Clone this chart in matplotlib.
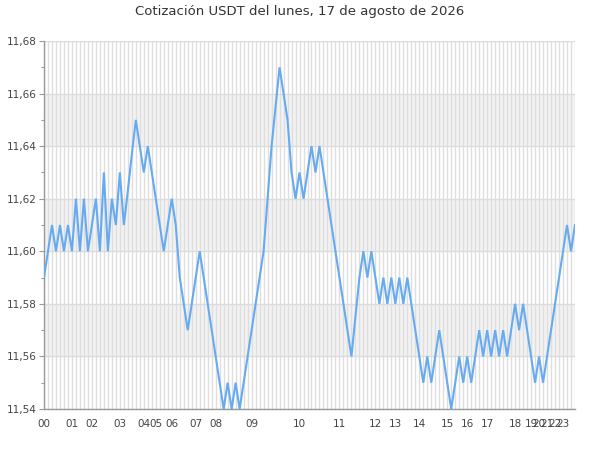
import matplotlib
matplotlib.use("Agg")
import matplotlib.pyplot as plt
from matplotlib.ticker import MultipleLocator, FuncFormatter

title = "Cotización USDT del lunes, 17 de agosto de 2026"

prices = [
    11.59, 11.60, 11.61, 11.60, 11.61, 11.60, 11.61, 11.60, 11.62, 11.60,
    11.62, 11.60, 11.61, 11.62, 11.60, 11.63, 11.60, 11.62, 11.61, 11.63,
    11.61, 11.623, 11.637, 11.65, 11.64, 11.63, 11.64, 11.63, 11.62, 11.61,
    11.60, 11.61, 11.62, 11.61, 11.59, 11.58, 11.57, 11.58, 11.59, 11.60,
    11.59, 11.58, 11.57, 11.56, 11.55, 11.54, 11.55, 11.54, 11.55, 11.54,
    11.55, 11.56, 11.57, 11.58, 11.59, 11.60, 11.62, 11.64, 11.655, 11.67,
    11.66, 11.65, 11.63, 11.62, 11.63, 11.62, 11.63, 11.64, 11.63, 11.64,
    11.63, 11.62, 11.61, 11.60, 11.59, 11.58, 11.57, 11.56, 11.575, 11.59,
    11.60, 11.59, 11.60, 11.59, 11.58, 11.59, 11.58, 11.59, 11.58, 11.59,
    11.58, 11.59, 11.58, 11.57, 11.56, 11.55, 11.56, 11.55, 11.56, 11.57,
    11.56, 11.55, 11.54, 11.55, 11.56, 11.55, 11.56, 11.55, 11.56, 11.57,
    11.56, 11.57, 11.56, 11.57, 11.56, 11.57, 11.56, 11.57, 11.58, 11.57,
    11.58, 11.57, 11.56, 11.55, 11.56, 11.55, 11.56, 11.57, 11.58, 11.59,
    11.60, 11.61, 11.60, 11.61,
]

hour_labels = ["00", "01", "02", "03", "04", "05", "06", "07", "08", "09",
               "10", "11", "12", "13", "14", "15", "16", "17", "18", "19",
               "20", "21", "22", "23"]
hour_positions = [0, 7, 12, 19, 25, 28, 32, 38, 43, 52,
                  64, 74, 83, 88, 94, 101, 106, 111, 118, 122,
                  124, 126, 128, 130]

y_min, y_max = 11.54, 11.68
band_starts = [11.56, 11.60, 11.64]

fig = plt.figure(figsize=(6, 4.5), dpi=100)
ax = fig.add_axes([44 / 600, 1 - 409 / 450, (575 - 44) / 600, (409 - 41) / 450])

n = len(prices)
xs = list(range(n))

for lo in band_starts:
    ax.axhspan(lo, lo + 0.02, color="#f2f2f2", zorder=0, lw=0)

ax.plot(xs, prices, color="#66aaf0", lw=1.5, zorder=3, solid_joinstyle="miter")

ax.set_xlim(0, n - 1)
ax.set_ylim(y_min, y_max)

ax.set_xticks(hour_positions)
ax.set_xticklabels(hour_labels)
ax.set_xticks(xs, minor=True)

ax.yaxis.set_major_locator(MultipleLocator(0.02))
ax.yaxis.set_minor_locator(MultipleLocator(0.01))
ax.yaxis.set_major_formatter(FuncFormatter(lambda v, p: f"{v:.2f}".replace(".", ",")))

ax.set_axisbelow(True)
ax.grid(axis="x", which="both", color="#dedede", lw=1.0, zorder=1)
ax.grid(axis="y", which="major", color="#dcdcdc", lw=1.0, zorder=1)

ax.tick_params(axis="x", which="both", length=0, pad=7, labelsize=7.5, labelcolor="#444444")
ax.tick_params(axis="y", which="major", length=3.5, width=0.8, color="#999999",
               pad=2, labelsize=7.5, labelcolor="#444444")
ax.tick_params(axis="y", which="minor", length=2.2, width=0.8, color="#999999")

for s in ["top", "right"]:
    ax.spines[s].set_visible(False)
for s in ["left", "bottom"]:
    ax.spines[s].set_color("#999999")
    ax.spines[s].set_linewidth(1.0)

fig.text(0.5, 1 - 11 / 450, title, ha="center", va="center", fontsize=9.5, color="#333333")

fig.savefig("out.png", dpi=100)
